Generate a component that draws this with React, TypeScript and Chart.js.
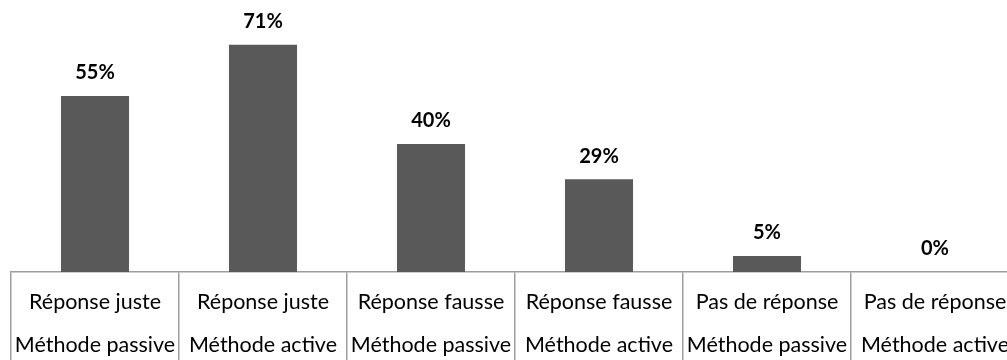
import React, { useEffect, useRef } from "react";
import { Chart, registerables } from "chart.js";

Chart.register(...registerables);

const categories: string[][] = [
  ["Réponse juste", "Méthode passive"],
  ["Réponse juste", "Méthode active"],
  ["Réponse fausse", "Méthode passive"],
  ["Réponse fausse", "Méthode active"],
  ["Pas de réponse", "Méthode passive"],
  ["Pas de réponse", "Méthode active"],
];
const values: number[] = [55, 71, 40, 29, 5, 0];
const valueLabels: string[] = ["55%", "71%", "40%", "29%", "5%", "0%"];

const FONT = "Lato, 'Open Sans', sans-serif";

const barLabelPlugin = {
  id: "barLabels",
  afterDatasetsDraw(chart: any) {
    const ctx = chart.ctx;
    const meta = chart.getDatasetMeta(0);
    ctx.save();
    ctx.font = `bold 20px ${FONT}`;
    ctx.fillStyle = "#000000";
    ctx.textAlign = "center";
    ctx.textBaseline = "middle";
    meta.data.forEach((bar: any, i: number) => {
      ctx.fillText(valueLabels[i], bar.x, bar.y - 23);
    });
    ctx.restore();
  },
};

export default function App() {
  const canvasRef = useRef<HTMLCanvasElement>(null);

  useEffect(() => {
    if (!canvasRef.current) return;
    const chart = new Chart(canvasRef.current, {
      type: "bar",
      data: {
        labels: categories,
        datasets: [
          {
            data: values,
            backgroundColor: "#595959",
            borderWidth: 0,
            barPercentage: 0.405,
            categoryPercentage: 1,
          },
        ],
      },
      options: {
        animation: false,
        responsive: false,
        layout: { padding: { left: 11, right: 11, top: 16, bottom: 0 } },
        plugins: {
          legend: { display: false },
          tooltip: { enabled: false },
        },
        scales: {
          y: { display: false, min: 0, max: 80 },
          x: {
            offset: true,
            grid: {
              offset: true,
              drawOnChartArea: false,
              drawTicks: true,
              tickLength: 88,
              color: "#9d9d9d",
              lineWidth: 1.5,
            },
            border: { display: true, color: "#9d9d9d", width: 1.5 },
            ticks: {
              padding: -79.5,
              color: "#000000",
              maxRotation: 0,
              autoSkip: false,
              font: { family: FONT, size: 21.5, lineHeight: 43 / 21.5 },
            },
            afterFit: (scale: any) => {
              scale.height = 88;
            },
          },
        },
      },
      plugins: [barLabelPlugin],
    });
    return () => chart.destroy();
  }, []);

  return (
    <div
      style={{
        position: "fixed",
        left: 0,
        top: 0,
        width: 1007,
        height: 360,
        overflow: "hidden",
        background: "#ffffff",
      }}
    >
      <canvas ref={canvasRef} width={1030} height={360} style={{ display: "block" }} />
    </div>
  );
}
